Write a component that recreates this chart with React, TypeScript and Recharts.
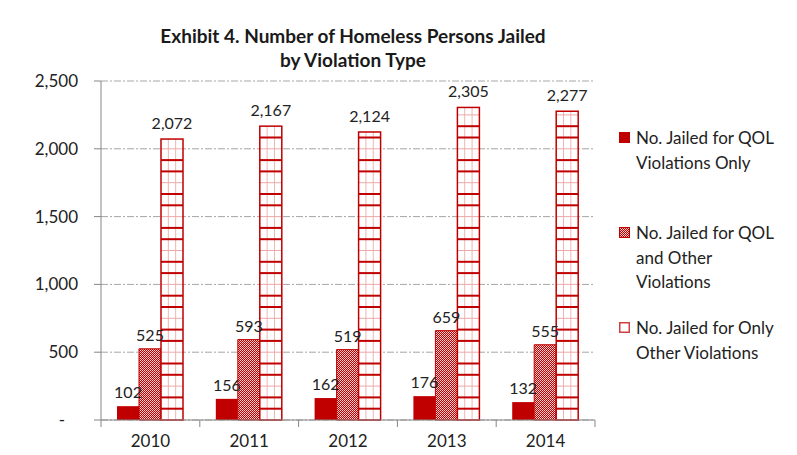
import { Bar, BarChart, CartesianGrid, LabelList, XAxis, YAxis } from "recharts"

const years = ["2010", "2011", "2012", "2013", "2014"]
const qolOnly = [102, 156, 162, 176, 132]
const qolAndOther = [525, 593, 519, 659, 555]
const otherOnly = [2072, 2167, 2124, 2305, 2277]
const yTicks = [0, 500, 1000, 1500, 2000, 2500]
const seriesNames = [
  ["No. Jailed for QOL", "Violations Only"],
  ["No. Jailed for QOL", "and Other", "Violations"],
  ["No. Jailed for Only", "Other Violations"],
]

const data = years.map((year, i) => ({
  year,
  qolOnly: qolOnly[i],
  qolAndOther: qolAndOther[i],
  otherOnly: otherOnly[i],
}))

const RED = "#c00000"
const FONT = "Lato, 'Open Sans', sans-serif"

const fmt = (v: number) => (v === 0 ? "-\u00a0\u00a0\u00a0" : v.toLocaleString("en-US"))

function GridBar(props: any) {
  const { x, y, width, height, payload } = props
  if (!height || height <= 0) return null
  const step = (height / payload.otherOnly) * (2500 / 30)
  const lines = []
  for (let k = 1; k * step < height - 1; k++) {
    const ly = y + height - k * step
    const thick = k % 3 !== 0
    lines.push(
      <line
        key={k}
        x1={x}
        x2={x + width}
        y1={ly}
        y2={ly}
        stroke={thick ? RED : "#eea8a8"}
        strokeWidth={thick ? 2 : 1}
      />
    )
  }
  return (
    <g>
      <rect x={x} y={y} width={width} height={height} fill="#fff" />
      <line x1={x + width / 3} x2={x + width / 3} y1={y} y2={y + height} stroke="#f0b4b4" />
      <line x1={x + (2 * width) / 3} x2={x + (2 * width) / 3} y1={y} y2={y + height} stroke="#f0b4b4" />
      {lines}
      <rect x={x} y={y} width={width} height={height} fill="none" stroke={RED} strokeWidth={1.5} />
    </g>
  )
}

function YearTick(props: any) {
  const { x, y, payload, index } = props
  const half = payload.offset || 49.4
  return (
    <g>
      <line x1={x - half} x2={x - half} y1={y - 7} y2={y} stroke="#868686" />
      {index === years.length - 1 && (
        <line x1={x + half} x2={x + half} y1={y - 7} y2={y} stroke="#868686" />
      )}
      <text x={x} y={y + 20} textAnchor="middle" fill="#222" fontSize={17} fontFamily={FONT}>
        {payload.value}
      </text>
    </g>
  )
}

function LegendIcon({ index }: { index: number }) {
  return (
    <svg width={12} height={12} style={{ position: "absolute", left: 0, top: 6 }}>
      {index === 0 && <rect x={0} y={0} width={11} height={11} fill={RED} />}
      {index === 1 && <rect x={0.5} y={0.5} width={10} height={10} fill="url(#dots)" stroke={RED} />}
      {index === 2 && <rect x={0.75} y={0.75} width={9.5} height={9.5} fill="#fff" stroke="#d04040" strokeWidth={1.5} />}
    </svg>
  )
}

function ChartLegend() {
  return (
    <div
      style={{
        position: "absolute",
        left: 619,
        top: 126,
        width: 178,
        height: 260,
        fontFamily: FONT,
        fontSize: 17,
        color: "#222",
      }}
    >
      {seriesNames.map((lines, i) => (
        <div key={i} style={{ position: "absolute", left: 0, top: i * 95, lineHeight: "24.5px" }}>
          <LegendIcon index={i} />
          <div style={{ marginLeft: 17 }}>
            {lines.map((l) => (
              <div key={l} style={{ whiteSpace: "nowrap" }}>{l}</div>
            ))}
          </div>
        </div>
      ))}
    </div>
  )
}

export default function App() {
  return (
    <div style={{ position: "relative", width: 797, height: 455, margin: -8, background: "#fff", overflow: "hidden" }}>
      <div
        style={{
          position: "absolute",
          left: 6,
          top: 5,
          width: 820,
          height: 480,
          borderLeft: "1px solid #a0a0a0",
          borderTop: "1px solid #a0a0a0",
        }}
      />
      <div
        style={{
          position: "absolute",
          left: 103,
          width: 500,
          top: 24,
          textAlign: "center",
          fontFamily: FONT,
          fontWeight: 700,
          fontSize: 19,
          lineHeight: "24px",
          color: "#1a1a1a",
        }}
      >
        Exhibit 4. Number of Homeless Persons Jailed
        <br />
        by Violation Type
      </div>
      <BarChart
        width={797}
        height={455}
        data={data}
        margin={{ top: 81, right: 202, bottom: 5, left: 0 }}
        barCategoryGap={16}
        barGap={0}
        style={{ position: "absolute", left: 0, top: 0 }}
      >
        <defs>
          <pattern id="dots" width={2} height={2} patternUnits="userSpaceOnUse">
            <rect width={2} height={2} fill={RED} />
            <rect width={1} height={1} fill="#ffdcdc" />
            <rect x={1} y={1} width={1} height={1} fill="#f6b4b4" />
          </pattern>
        </defs>
        <CartesianGrid vertical={false} stroke="#a6a6a6" strokeDasharray="7 2 2 2" />
        <XAxis
          dataKey="year"
          height={30}
          tickSize={7}
          tickMargin={0}
          tickLine={false}
          axisLine={{ stroke: "#868686" }}
          tick={<YearTick />}
          interval={0}
        />
        <YAxis
          domain={[0, 2500]}
          ticks={yTicks}
          width={101}
          tickSize={7}
          tickMargin={16}
          axisLine={{ stroke: "#868686" }}
          tickLine={{ stroke: "#868686" }}
          tick={{ fill: "#222", fontSize: 17, fontFamily: FONT }}
          tickFormatter={fmt}
        />
        <Bar dataKey="qolOnly" name="No. Jailed for QOL Violations Only" fill={RED} isAnimationActive={false}>
          <LabelList dataKey="qolOnly" position="top" offset={8} fill="#222" fontSize={16} fontFamily={FONT} formatter={fmt} />
        </Bar>
        <Bar
          dataKey="qolAndOther"
          name="No. Jailed for QOL and Other Violations"
          fill="url(#dots)"
          stroke={RED}
          strokeWidth={1}
          isAnimationActive={false}
        >
          <LabelList dataKey="qolAndOther" position="top" offset={8} fill="#222" fontSize={16} fontFamily={FONT} formatter={fmt} />
        </Bar>
        <Bar
          dataKey="otherOnly"
          name="No. Jailed for Only Other Violations"
          fill="#fff"
          shape={<GridBar />}
          isAnimationActive={false}
        >
          <LabelList dataKey="otherOnly" position="top" offset={10} fill="#222" fontSize={16} fontFamily={FONT} formatter={fmt} />
        </Bar>
      </BarChart>
      <ChartLegend />
    </div>
  )
}
